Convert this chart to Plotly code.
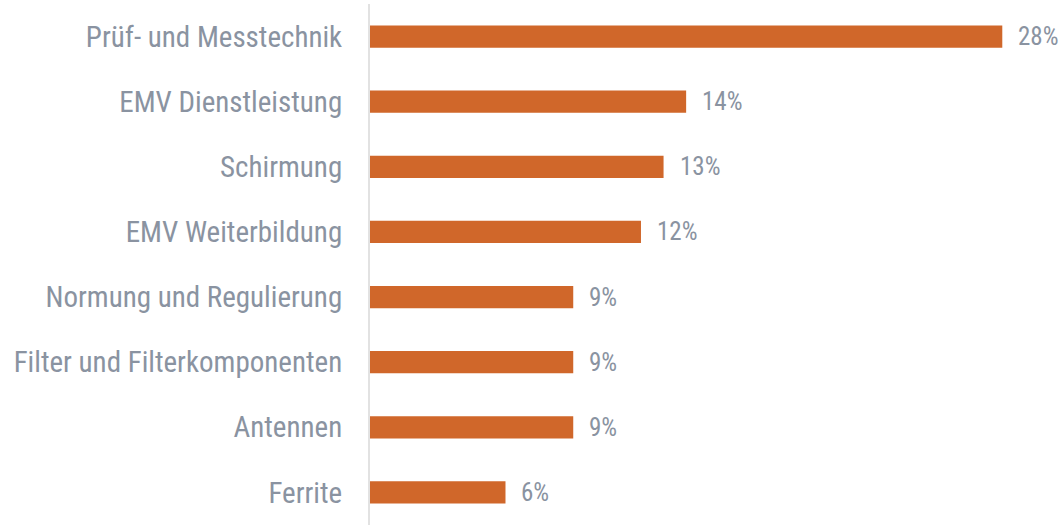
import plotly.graph_objects as go

categories = ["Prüf- und Messtechnik", "EMV Dienstleistung", "Schirmung", "EMV Weiterbildung",
              "Normung und Regulierung", "Filter und Filterkomponenten", "Antennen", "Ferrite"]
shares = [28, 14, 13, 12, 9, 9, 9, 6]

BAR_COLOR = "#D0672A"
TEXT_COLOR = "#8A93A1"
FONT = "Roboto Condensed, Roboto, Arial, sans-serif"

fig = go.Figure()
fig.add_trace(go.Bar(
    x=shares, y=categories, orientation="h",
    marker=dict(color=BAR_COLOR, line=dict(width=0)),
    width=0.34, hoverinfo="skip",
))

# value labels right of the bars
for cat, val in zip(categories, shares):
    fig.add_annotation(x=val, y=cat, text=f"{val}%", showarrow=False,
                       xanchor="left", xshift=14, yshift=0,
                       font=dict(family=FONT, size=25, color=TEXT_COLOR))

fig.update_layout(
    width=1061, height=525,
    margin=dict(l=370, r=0, t=4, b=0, autoexpand=False),
    paper_bgcolor="white", plot_bgcolor="white",
    showlegend=False,
    font=dict(family=FONT, color=TEXT_COLOR),
)
fig.update_xaxes(range=[0, 30.6], showgrid=False, zeroline=False, showticklabels=False,
                 showline=False)
fig.update_yaxes(categoryorder="array", categoryarray=categories, autorange="reversed",
                 showgrid=False, zeroline=False, showline=True, linecolor="#E2E2E2", linewidth=2,
                 ticks="", ticklabelstandoff=20,
                 tickfont=dict(family=FONT, size=29, color=TEXT_COLOR))

fig.write_html("out.html", config={"displayModeBar": False},
               post_script="document.body.style.margin='0';")
